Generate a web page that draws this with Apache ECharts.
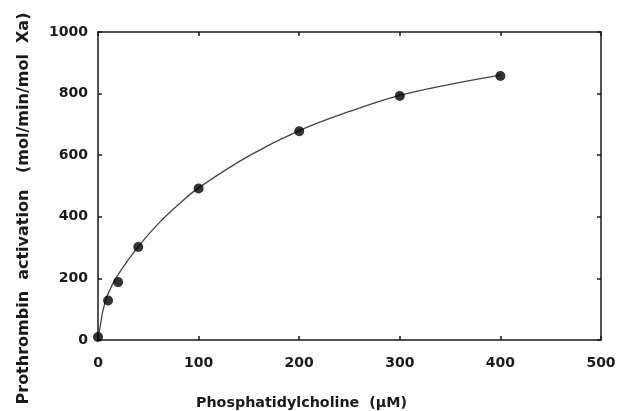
<!DOCTYPE html>
<html>
<head>
<meta charset="utf-8">
<style>
  html, body { margin: 0; padding: 0; background: #fff; }
  #chart { width: 617px; height: 411px; }
</style>
<script src="https://cdn.jsdelivr.net/npm/echarts@6/dist/echarts.min.js"></script>
</head>
<body>
<div id="chart"></div>
<script>
// measured points
const pcConc = [0, 10, 20, 40, 100, 200, 300, 400];
const activation = [10, 128, 188, 302, 492, 678, 792, 857];

// fitted curve
const curveX = [0, 1, 3, 5, 10, 20, 40, 60, 80, 100, 150, 200, 250, 300, 350, 400];
const curveY = [0, 22, 60, 97, 150, 212, 303, 378, 440, 494, 598, 680, 742, 794, 830, 860];

const xTicks = [0, 100, 200, 300, 400, 500];
const yTicks = [0, 200, 400, 600, 800, 1000];

const font = 'DejaVu Sans, Liberation Sans, sans-serif';
const axisColor = '#1a1a1a';

const chart = echarts.init(document.getElementById('chart'));

const labelStyle = {
  fontFamily: font,
  fontWeight: 'bold',
  fontSize: 14,
  color: '#1a1a1a',
  formatter: v => String(v)
};
const lineStyle = { color: axisColor, width: 1.5 };
const tickStyle = { inside: true, length: 4, lineStyle: { color: axisColor, width: 1.5 } };

chart.setOption({
  animation: false,
  grid: { left: 98, right: 16, top: 32, bottom: 71, outerBoundsMode: 'none', containLabel: false },
  xAxis: [
    {
      type: 'value',
      min: xTicks[0],
      max: xTicks[xTicks.length - 1],
      interval: 100,
      name: 'Phosphatidylcholine  (\u00b5M)',
      nameLocation: 'middle',
      nameGap: 56,
      nameTextStyle: { fontFamily: font, fontWeight: 'bold', fontSize: 14.3, color: '#1a1a1a', padding: [0, 96, 0, 0] },
      axisLine: { onZero: false, lineStyle: lineStyle },
      axisTick: tickStyle,
      axisLabel: Object.assign({ margin: 16 }, labelStyle),
      splitLine: { show: false }
    },
    {
      type: 'value',
      position: 'top',
      min: 0, max: 500, interval: 100,
      axisLine: { onZero: false, lineStyle: lineStyle },
      axisTick: tickStyle,
      axisLabel: { show: false },
      splitLine: { show: false }
    }
  ],
  yAxis: [
    {
      type: 'value',
      min: yTicks[0],
      max: yTicks[yTicks.length - 1],
      interval: 200,
      name: 'Prothrombin  activation   (mol/min/mol  Xa)',
      nameLocation: 'middle',
      nameGap: 66,
      nameTextStyle: { fontFamily: font, fontWeight: 'bold', fontSize: 16, color: '#1a1a1a', padding: [0, 45, 0, 0] },
      axisLine: { onZero: false, lineStyle: lineStyle },
      axisTick: tickStyle,
      axisLabel: Object.assign({ margin: 10 }, labelStyle),
      splitLine: { show: false }
    },
    {
      type: 'value',
      position: 'right',
      min: 0, max: 1000, interval: 200,
      axisLine: { onZero: false, lineStyle: lineStyle },
      axisTick: tickStyle,
      axisLabel: { show: false },
      splitLine: { show: false }
    }
  ],
  series: [
    {
      type: 'line',
      data: curveX.map((x, i) => [x, curveY[i]]),
      smooth: 0.4,
      showSymbol: false,
      lineStyle: { color: '#444', width: 1.3 },
      z: 1
    },
    {
      type: 'scatter',
      data: pcConc.map((x, i) => [x, activation[i]]),
      symbol: 'circle',
      symbolSize: 10,
      itemStyle: { color: '#000' },
      clip: false,
      z: 2
    }
  ]
});
</script>
</body>
</html>
